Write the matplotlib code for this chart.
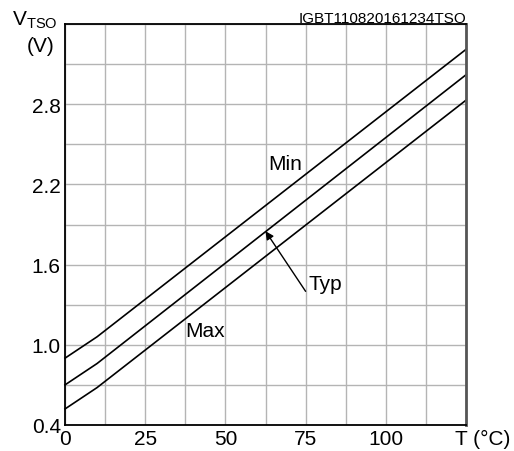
import matplotlib
matplotlib.use("Agg")
import matplotlib.pyplot as plt
import numpy as np

plt.rcParams['font.family'] = ['Liberation Sans', 'DejaVu Sans']
plt.rcParams['mathtext.fontset'] = 'custom'
plt.rcParams['mathtext.rm'] = 'Liberation Sans'

# temperature points (°C) and V_TSO curves (V)
temp = [0, 10, 125]
v_min = [0.90, 1.06, 3.21]
v_typ = [0.70, 0.86, 3.02]
v_max = [0.52, 0.68, 2.83]

x_ticks = [0, 25, 50, 75, 100]
y_ticks = [0.4, 1.0, 1.6, 2.2, 2.8]

fig = plt.figure(figsize=(5.14, 4.52), dpi=100)
ax = fig.add_axes([65 / 514, 1 - 426 / 452, 401 / 514, 401 / 452])

ax.set_xlim(0, 125)
ax.set_ylim(0.4, 3.4)
ax.set_xticks(x_ticks)
ax.set_xticks(np.arange(0, 125.1, 12.5), minor=True)
ax.set_yticks(y_ticks)
ax.set_yticks(np.arange(0.4, 3.41, 0.3), minor=True)
ax.grid(True, which="both", color="#b4b4b4", linewidth=1.0)
ax.set_axisbelow(True)
ax.set_xticklabels([str(t) for t in x_ticks])
ax.set_yticklabels([f"{t:.1f}" for t in y_ticks])
ax.tick_params(which="both", length=0, labelsize=15, pad=3, colors="black")

for side in ["left", "bottom", "top"]:
    ax.spines[side].set_color("black")
    ax.spines[side].set_linewidth(1.3)
ax.spines["right"].set_color("#555555")
ax.spines["right"].set_linewidth(2.0)

for v in (v_min, v_typ, v_max):
    ax.plot(temp, v, color="black", linewidth=1.2, clip_on=False)

ax.text(68.75, 2.36, "Min", fontsize=15, ha="center", va="center")
ax.text(81, 1.46, "Typ", fontsize=15, ha="center", va="center")
ax.text(43.75, 1.11, "Max", fontsize=15, ha="center", va="center")
ax.annotate("", xy=(62.5, 1.85), xytext=(75, 1.40),
            arrowprops=dict(arrowstyle="-|>", color="black", lw=1.0,
                            mutation_scale=12, shrinkA=0, shrinkB=0))

fig.text(12 / 514, 1 - 25 / 452, r"V$_{\mathrm{TSO}}$", fontsize=15, ha="left", va="baseline")
fig.text(41 / 514, 1 - 52 / 452, "(V)", fontsize=15, ha="center", va="baseline")
fig.text(466 / 514, 1 - 23 / 452, "IGBT110820161234TSO", fontsize=11, ha="right", va="baseline")
fig.text(455 / 514, 1 - 445 / 452, "T (°C)", fontsize=15, ha="left", va="baseline")

fig.savefig("out.png", dpi=100)
